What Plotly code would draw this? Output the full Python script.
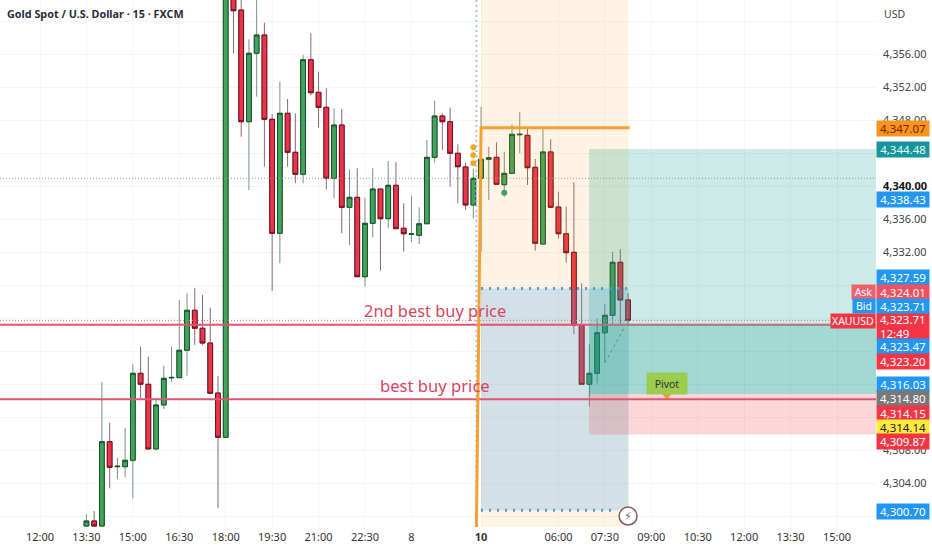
import plotly.graph_objects as go

W, H = 932, 550
PLOT_W, PLOT_H = 876, 527

# ---------- data ----------
bar_index = list(range(6, 77))
opens = [4298.79,4299.40,4298.79,4309.01,4305.98,4305.98,4306.76,4317.30,4315.97,4308.13,4313.46,4316.75,4316.77,4320.09,4324.94,4322.76,4320.97,4314.91,
         4309.54,4364.50,4361.34,4347.80,4356.09,4358.31,4348.09,4334.27,4348.82,4344.09,4341.42,4355.31,4351.36,4349.54,4340.94,4347.40,4337.42,4338.63,
         4329.01,4335.48,4339.64,4336.04,4340.09,4334.88,4334.15,4334.03,4335.43,4343.48,4348.49,4347.80,4343.97,4342.31,4337.70,4340.94,4343.24,4343.48,
         4340.16,4341.54,4346.22,4346.15,4342.27,4332.97,4344.13,4337.46,4334.22,4331.97,4323.12,4315.97,4317.30,4322.22,4324.33,4330.76,4326.19]
highs = [4300.25,4300.61,4316.25,4311.31,4307.07,4310.71,4318.39,4320.53,4319.31,4314.07,4318.22,4320.53,4326.19,4327.00,4327.61,4326.79,4325.25,4316.98,
         4365.00,4365.00,4363.00,4357.79,4363.00,4359.80,4348.73,4352.65,4350.55,4348.82,4355.88,4358.51,4353.86,4351.88,4349.42,4349.34,4342.03,4342.15,
         4338.59,4342.15,4339.64,4343.03,4342.91,4337.91,4338.83,4337.42,4345.58,4350.34,4348.82,4349.50,4345.06,4342.83,4342.03,4349.62,4344.77,4345.30,
         4344.16,4347.48,4348.94,4347.12,4343.28,4347.00,4345.67,4339.31,4337.50,4340.45,4328.21,4320.85,4323.97,4325.67,4332.04,4332.33,4327.00]
lows = [4298.50,4298.50,4298.50,4303.36,4304.49,4304.70,4302.15,4314.27,4308.13,4308.13,4312.97,4316.28,4316.77,4317.01,4320.73,4320.73,4314.88,4300.94,
        4309.54,4356.09,4345.98,4339.52,4350.83,4342.34,4327.28,4330.64,4342.34,4340.33,4340.33,4351.03,4347.07,4339.60,4338.51,4334.27,4332.85,4329.01,
        4327.80,4333.79,4329.74,4334.88,4334.83,4332.04,4333.18,4332.97,4335.43,4342.83,4344.37,4339.92,4337.91,4337.10,4336.09,4332.04,4338.31,4340.21,
        4338.71,4341.54,4343.97,4340.13,4332.16,4332.97,4337.42,4333.66,4330.71,4322.03,4315.97,4313.25,4316.09,4318.59,4323.16,4323.16,4323.03]
closes = [4299.40,4298.79,4309.01,4305.91,4306.03,4306.76,4317.30,4315.97,4308.13,4313.46,4316.69,4316.80,4320.09,4324.94,4322.76,4320.97,4314.88,4309.54,
          4364.50,4361.25,4347.80,4356.09,4358.31,4348.09,4334.27,4348.82,4344.09,4341.42,4355.31,4351.31,4349.54,4340.94,4347.40,4337.42,4338.63,4329.01,
          4335.48,4339.64,4336.04,4340.09,4334.83,4334.22,4334.20,4335.43,4343.48,4348.49,4347.80,4343.97,4342.34,4337.70,4340.94,4343.24,4343.43,4340.21,
          4341.54,4346.27,4346.27,4342.22,4333.06,4344.13,4337.42,4334.22,4331.92,4323.12,4315.97,4317.30,4322.22,4324.33,4330.76,4326.19,4323.71]

time_ticks = [0, 6, 12, 18, 24, 30, 36, 42, 48, 57, 67, 73, 79, 85, 91, 97, 103]
time_labels = ["12:00","13:30","15:00","16:30","18:00","19:30","21:00","22:30","8","<b>10</b>",
               "06:00","07:30","09:00","10:30","12:00","13:30","15:00"]
price_ticks = list(range(4300, 4361, 4))
hidden_price_ticks = [4300, 4312, 4316, 4320, 4324, 4328, 4344, 4360]
dark_price_tick = 4340

last_price_line = 4340.94
current_price = 4323.71
upper_red_line = 4323.20
lower_red_line = 4314.15
range_high = 4347.07
zone_top = 4327.59
zone_bottom = 4300.70
tp_price = 4344.48
entry_price = 4314.80
stop_price = 4309.87
zone_start = 57
zone_end = 76
position_start = 70.95
axis_end = 108.04
marker_orange_x = [56, 56, 56]
marker_orange_y = [4344.70, 4343.73, 4342.76]
marker_teal_x = [60]
marker_teal_y = [4339.19]
dashed_x = [73, 75.5]
dashed_y = [4318.55, 4322.80]
orange_x = [56.4, 57, 76.2]
orange_y = [4298.67, range_high, range_high]

# (text, y pixel, height, background, text colour)
price_tags = [
    ("4,347.07", 128, 15, "#f7941d", "#7d1f00"),
    ("4,344.48", 149, 15, "#16969c", "#e8fbf6"),
    ("4,338.43", 199.5, 15, "#2196f3", "#ffffff"),
    ("4,327.59", 277.5, 15, "#2196f3", "#ffffff"),
    ("4,324.01", 292, 15, "#f0505f", "#ffffff"),
    ("4,323.71", 306, 15, "#2196f3", "#ffffff"),
    ("\u00a04,323.71<br>\u00a012:49", 326.5, 25, "#f23645", "#ffffff"),
    ("4,323.47", 346, 15, "#2196f3", "#ffffff"),
    ("4,323.20", 361, 15, "#f23645", "#ffffff"),
    ("4,316.03", 384, 15, "#2196f3", "#ffffff"),
    ("4,314.80", 398, 15, "#787878", "#ffffff"),
    ("4,314.15", 413, 15, "#f23645", "#ffffff"),
    ("4,314.14", 427, 15, "#ffeb3b", "#222222"),
    ("4,309.87", 441, 15, "#f23645", "#ffffff"),
    ("4,300.70", 511, 15, "#2196f3", "#ffffff"),
]
side_tags = [("Ask", 292, 23, "#f0606f"), ("Bid", 306, 22, "#2196f3"), ("XAUUSD", 321, 44, "#f23645")]

FONT = "Noto Sans, Open Sans, sans-serif"
GREEN, RED = "#43a35a", "#ea3449"
GREEN_EDGE, RED_EDGE = "#14522a", "#6e1020"

fig = go.Figure()
# wicks
fig.add_trace(go.Candlestick(
    x=bar_index, open=opens, high=highs, low=lows, close=closes,
    increasing=dict(line=dict(color="#7c8f86", width=1), fillcolor=GREEN),
    decreasing=dict(line=dict(color="#8f6672", width=1), fillcolor=RED),
    hoverinfo="skip", showlegend=False))
# bodies with dark edge
fig.add_trace(go.Candlestick(
    x=bar_index, open=opens, close=closes,
    high=[max(o, c) for o, c in zip(opens, closes)],
    low=[min(o, c) for o, c in zip(opens, closes)],
    increasing=dict(line=dict(color=GREEN_EDGE, width=1), fillcolor=GREEN),
    decreasing=dict(line=dict(color=RED_EDGE, width=1), fillcolor=RED),
    hoverinfo="skip", showlegend=False))
fig.add_trace(go.Scatter(x=marker_orange_x, y=marker_orange_y, mode="markers",
                         marker=dict(color="#f5a623", size=6), hoverinfo="skip", showlegend=False))
fig.add_trace(go.Scatter(x=marker_teal_x, y=marker_teal_y, mode="markers",
                         marker=dict(color="#2e9c88", size=6), hoverinfo="skip", showlegend=False))
fig.add_trace(go.Scatter(x=dashed_x, y=dashed_y, mode="lines",
                         line=dict(color="#7f9aa6", width=1, dash="3px,3px"), hoverinfo="skip", showlegend=False))
fig.add_trace(go.Scatter(x=[81], y=[4314.55], mode="markers",
                         marker=dict(color="#f5b530", size=8, symbol="triangle-down"), hoverinfo="skip", showlegend=False))

shapes = []
def rect(x0, x1, y0, y1, fill):
    shapes.append(dict(type="rect", x0=x0, x1=x1, y0=y0, y1=y1, fillcolor=fill,
                       line=dict(width=0), layer="above"))
def hline(y, x0, x1, color, width, dash="solid"):
    shapes.append(dict(type="line", x0=x0, x1=x1, y0=y, y1=y,
                       line=dict(color=color, width=width, dash=dash), layer="above"))

x_left, x_right = -5.17, axis_end
y_bottom, y_top = 4298.67, 4362.55

rect(zone_start, zone_end + 0.05, y_bottom, y_top, "rgba(255,152,0,0.11)")
rect(zone_start, zone_end + 0.05, zone_bottom, zone_top, "rgba(33,150,243,0.2)")
rect(position_start, axis_end, entry_price, tp_price, "rgba(0,150,136,0.2)")
rect(position_start, axis_end, entry_price, upper_red_line, "rgba(0,150,136,0.2)")
rect(position_start, axis_end, stop_price, entry_price, "rgba(242,54,69,0.2)")
hline(last_price_line, x_left, x_right, "#9a9a9a", 1, "1px,2px")
hline(current_price, x_left, x_right, "#c9808c", 1, "1px,2px")
hline(upper_red_line, x_left, x_right, "#e0566e", 2)
hline(upper_red_line, position_start, x_right, "#8a8a8a", 1)
hline(lower_red_line, x_left, x_right, "#e0566e", 2)
hline(zone_top, zone_start, zone_end + 0.2, "#4a9fd8", 3, "2px,6px")
hline(zone_bottom, zone_start, 74.6, "#4a9fd8", 3, "2px,6px")
shapes.append(dict(type="line", x0=56.4, x1=56.4, y0=y_bottom, y1=y_top,
                   line=dict(color="#b4c4d0", width=2, dash="2px,3px"), layer="above"))
shapes.append(dict(type="path",
                   path=f"M {orange_x[0]} {orange_y[0]} L {orange_x[1]} {orange_y[1]} L {orange_x[2]} {orange_y[2]}",
                   line=dict(color="#f7a030", width=3), layer="above"))
shapes.append(dict(type="circle", xsizemode="pixel", ysizemode="pixel", xanchor=76, yanchor=4300.0,
                   x0=-9, x1=9, y0=-9, y1=9, fillcolor="#ffffff",
                   line=dict(color="#7d5c68", width=1.5), layer="above"))

annots = []
def note(text, x, y, size=11, color="#333333", anchor="center", **kw):
    annots.append(dict(text=text, xref="paper", yref="paper", x=x/PLOT_W, y=1-y/PLOT_H,
                       xanchor=anchor, yanchor="middle", showarrow=False,
                       font=dict(family=kw.pop("family", FONT), size=size, color=color), **kw))

note("<b>Gold Spot / U.S. Dollar · 15 · FXCM</b>", 5, 13.5, size=10.8, color="#2a2e39", anchor="left")
note("USD", 895, 13.5, size=10.5, color="#444444")
note("2nd best buy price", 435, 310.5, size=16.4, color="#d94560")
note("best buy price", 434.5, 385.5, size=16.6, color="#d94560")
note("Pivot", 666.5, 383.5, size=10.5, color="#333333", bgcolor="#9ccc50", width=40, height=21, borderpad=0)
note("⚡", 628, 516, size=11, color="#7d5c68", family="DejaVu Sans")

for text, y, h, bg, fg in price_tags:
    align = "left" if "<br>" in text else "center"
    note(text, 876, y, size=11.5, color=fg, anchor="left", bgcolor=bg, width=52, height=h, borderpad=0, align=align)
for text, y, w, bg in side_tags:
    note(text, 875.5, y, size=10.5, color="#ffffff", anchor="right", bgcolor=bg, width=w, height=14, borderpad=0, align="center")

def price_label(v):
    if v in hidden_price_ticks:
        return " "
    if v == dark_price_tick:
        return f'<span style="color:#111111"><b>{v:,.2f}</b></span>'
    return f"{v:,.2f}"

fig.update_layout(
    width=W, height=H, margin=dict(l=0, r=W-PLOT_W, t=0, b=H-PLOT_H),
    paper_bgcolor="#ffffff", plot_bgcolor="#ffffff", showlegend=False,
    font=dict(family=FONT, size=11, color="#333333"),
    shapes=shapes, annotations=annots, boxmode="overlay", boxgap=0.12,
    xaxis=dict(type="linear", range=[x_left, x_right], tickvals=time_ticks, ticktext=time_labels,
               showgrid=True, gridcolor="#f4f5f7", gridwidth=1, zeroline=False, showline=False,
               ticks="", rangeslider=dict(visible=False), tickfont=dict(size=11, color="#333333"),
               tickangle=0, ticklabelstandoff=2),
    yaxis=dict(side="right", range=[y_bottom, y_top], tickvals=price_ticks,
               ticktext=[price_label(v) for v in price_ticks],
               showgrid=True, gridcolor="#f4f5f7", gridwidth=1, zeroline=False, showline=False,
               ticks="", tickfont=dict(size=11, color="#444444"), ticklabelstandoff=6),
)

fig.write_html("out.html", post_script="document.body.style.margin='0';document.documentElement.style.overflow='hidden';",
               config=dict(displayModeBar=False))
